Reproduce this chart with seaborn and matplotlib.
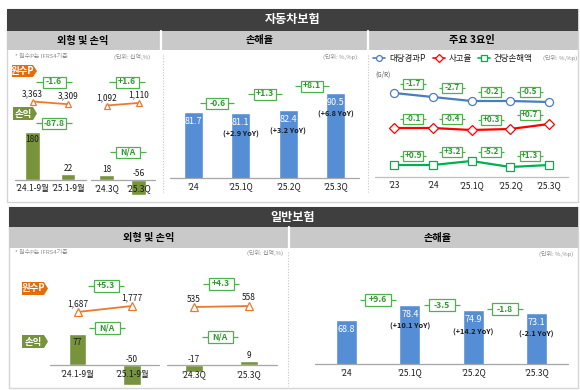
import matplotlib
matplotlib.use("Agg")
import matplotlib.pyplot as plt
from matplotlib.patches import Rectangle, Polygon
import numpy as np
import pandas as pd
import seaborn as sns

# ---------------- data ----------------
# 자동차보험 - 외형 및 손익
auto_cum_periods = ["'24.1-9월", "'25.1-9월"]
auto_cum_premium = [3363, 3309]
auto_cum_profit = [180, 22]
auto_q_periods = ["'24.3Q", "'25.3Q"]
auto_q_premium = [1092, 1110]
auto_q_profit = [18, -56]
auto_premium_delta = ["-1.6", "+1.6"]
auto_profit_delta = ["-87.8", "N/A"]

# 자동차보험 - 손해율
auto_lr_periods = ["'24", "'25.1Q", "'25.2Q", "'25.3Q"]
auto_lr = [81.7, 81.1, 82.4, 90.5]
auto_lr_yoy = ["", "(+2.9 YoY)", "(+3.2 YoY)", "(+6.8 YoY)"]
auto_lr_delta = ["-0.6", "+1.3", "+8.1"]

# 자동차보험 - 주요 3요인 (relative G/R levels)
factor_periods = ["'23", "'24", "'25.1Q", "'25.2Q", "'25.3Q"]
factor_premium = [84, 80, 76, 76, 75]      # 대당경과P
factor_freq = [49, 49, 47, 48, 53]         # 사고율
factor_severity = [12, 12, 16, 10, 12]     # 건당손해액
premium_delta = ["-1.7", "-2.7", "-0.2", "-0.5"]
freq_delta = ["-0.1", "-0.4", "+0.3", "+0.7"]
severity_delta = ["+0.9", "+3.2", "-5.2", "+1.3"]

# 일반보험 - 외형 및 손익
gen_cum_periods = ["'24.1-9월", "'25.1-9월"]
gen_cum_premium = [1687, 1777]
gen_cum_profit = [77, -50]
gen_q_periods = ["'24.3Q", "'25.3Q"]
gen_q_premium = [535, 558]
gen_q_profit = [-17, 9]
gen_premium_delta = ["+5.3", "+4.3"]
gen_profit_delta = ["N/A", "N/A"]

# 일반보험 - 손해율
gen_lr_periods = ["'24", "'25.1Q", "'25.2Q", "'25.3Q"]
gen_lr = [68.8, 78.4, 74.9, 73.1]
gen_lr_yoy = ["", "(+10.1 YoY)", "(+14.2 YoY)", "(-2.1 YoY)"]
gen_lr_delta = ["+9.6", "-3.5", "-1.8"]

# ---------------- style ----------------
sns.set_style("white")
plt.rcParams['font.family'] = ['Noto Sans CJK KR', 'DejaVu Sans']
plt.rcParams['axes.unicode_minus'] = False

DARK = '#3f3f3f'
GRAYH = '#c9c9c9'
OLIVE = '#77933c'
ORANGE_TAG = '#e46c0a'
ORANGE = '#eb7a2f'
BLUE = '#558ed5'
GE = '#4cb34c'
GT = '#2f972f'
BASE = '#a6a6a6'
TXT = '#1a1a1a'
NOTE = '#8c8c8c'
LBLUE = '#4a7ebb'
LRED = '#ff0000'
LGREEN = '#00b050'

W, H = 580, 390
fig = plt.figure(figsize=(W / 100, H / 100), dpi=100)
fig.patch.set_facecolor('white')


def overlay(z):
    ax = fig.add_axes([0, 0, 1, 1])
    ax.set_xlim(0, W)
    ax.set_ylim(H, 0)
    ax.set_axis_off()
    ax.set_zorder(z)
    ax.patch.set_alpha(0)
    return ax


bg = overlay(-1)
fg = overlay(5)


def data_axes(x0, x1, y0, y1):
    ax = fig.add_axes([x0 / W, 1 - y1 / H, (x1 - x0) / W, (y1 - y0) / H])
    ax.patch.set_alpha(0)
    return ax


def ylims(y_top, y_bot, y_base, base_val, ppu):
    return (base_val - (y_bot - y_base) / ppu, base_val + (y_base - y_top) / ppu)


def to_px(ax, x, y):
    X, Y = ax.transData.transform((x, y))
    return X, H - Y


def section(x0, y0, x1, y1, title, hy0, hy1, sy1, subs, seps):
    bg.add_patch(Rectangle((x0, y0), x1 - x0, y1 - y0, fc='white', ec='#d5d5d5', lw=1))
    bg.add_patch(Rectangle((x0, hy0), x1 - x0, hy1 - hy0, fc=DARK, ec='none'))
    bg.text(293, (hy0 + hy1) / 2, title, color='white', ha='center', va='center',
            fontsize=8.7, fontweight='bold')
    bg.add_patch(Rectangle((x0, hy1), x1 - x0, sy1 - hy1, fc=GRAYH, ec='none'))
    for cx, s in subs:
        bg.text(cx, (hy1 + sy1) / 2, s, color='black', ha='center', va='center',
                fontsize=7.3, fontweight='bold')
    for sx in seps:
        bg.plot([sx, sx], [hy1, sy1], color='white', lw=1.6)


def dotted(x, y0, y1):
    bg.plot([x, x], [y0, y1], color='#c4c4c4', lw=0.8, linestyle=(0, (1, 1.5)))


def tag(x0, y0, x1, y1, color, s):
    tip = 4
    fg.add_patch(Polygon([(x0, y0), (x1 - tip, y0), (x1, (y0 + y1) / 2), (x1 - tip, y1), (x0, y1)],
                         closed=True, fc=color, ec='none'))
    fg.text((x0 + x1 - tip) / 2, (y0 + y1) / 2, s, color='white', ha='center', va='center',
            fontsize=6.8, fontweight='bold')


def delta_box(cx, cy, s, w, h, half, fs=6.2):
    fg.plot([cx - half, cx + half], [cy, cy], color=GE, lw=0.9, zorder=2, solid_capstyle='butt')
    fg.add_patch(Rectangle((cx - w / 2 + 1, cy - h / 2 + 1), w, h, fc='#d0d0d0', ec='none', zorder=3))
    fg.add_patch(Rectangle((cx - w / 2, cy - h / 2), w, h, fc='white', ec=GE, lw=0.9, zorder=4))
    fg.text(cx, cy, s, ha='center', va='center', fontsize=fs, fontweight='bold', color=GT, zorder=5)


def note(x, y, s, ha='left'):
    fg.text(x, y, s, ha=ha, va='center', fontsize=4.3, color=NOTE)


def bar_panel(x0, x1, y0, y1, cats, vals, color, lims, width, base):
    ax = data_axes(x0, x1, y0, y1)
    df = pd.DataFrame({'cat': cats, 'val': vals})
    sns.barplot(data=df, x='cat', y='val', color=color, saturation=1, width=width,
                errorbar=None, ax=ax)
    ax.set_xlim(-0.5, len(cats) - 0.5)
    ax.set_ylim(*lims)
    ax.axhline(base, color=BASE, lw=0.9, zorder=3, clip_on=False)
    ax.set_axis_off()
    return ax


def line_panel(x0, x1, y0, y1, vals, color, lims, marker, ms):
    ax = data_axes(x0, x1, y0, y1)
    df = pd.DataFrame({'i': np.arange(len(vals)), 'v': vals})
    sns.lineplot(data=df, x='i', y='v', color=color, lw=1.3, marker=marker, markersize=ms,
                 markerfacecolor='white', markeredgecolor=color, markeredgewidth=0.9,
                 ax=ax, clip_on=False, legend=False)
    ax.set_xlim(-0.5, len(vals) - 0.5)
    ax.set_ylim(*lims)
    ax.set_axis_off()
    return ax


def xlabels(ax, cats, base, y):
    for i, c in enumerate(cats):
        px, _ = to_px(ax, i, base)
        fg.text(px, y, c, ha='center', va='center', fontsize=6, color=TXT, zorder=6)


def profit_labels(ax, vals):
    for i, v in enumerate(vals):
        cx, ty = to_px(ax, i, v)
        _, by = to_px(ax, i, 0)
        if v > 0 and (by - ty) > 25:
            y = ty + 8
        else:
            y = min(ty, by) - 6
        fg.text(cx, y, f"{v}", ha='center', va='center', fontsize=6, color=TXT)


def premium_labels(ax, vals, off=8):
    for i, v in enumerate(vals):
        cx, py = to_px(ax, i, v)
        fg.text(cx, py - off, f"{v:,}", ha='center', va='center', fontsize=6, color=TXT)


def lr_labels(ax, vals, yoy):
    for i, (v, s) in enumerate(zip(vals, yoy)):
        cx, ty = to_px(ax, i, v)
        fg.text(cx, ty + 9.5, f"{v:.1f}", ha='center', va='center', fontsize=6.5, color='white')
        if s:
            fg.text(cx, ty + 21.5, s, ha='center', va='center', fontsize=5.3, color=TXT,
                    fontweight='bold')


# ---------------- frames & headers ----------------
section(7, 9, 578, 202, '자동차보험', 9, 31, 50,
        [(83, '외형 및 손익'), (260, '손해율'), (472, '주요 3요인')], [161, 368])
section(9, 207, 578, 388, '일반보험', 207, 227, 248,
        [(149, '외형 및 손익'), (438, '손해율')], [289])
dotted(163, 55, 192)
dotted(368, 55, 192)
dotted(288, 252, 386)

# ================= 자동차보험: 외형 및 손익 =================
note(15, 56, '* 원수P는 IFRS4기준')
note(150, 57, '(단위: 십억,%)', ha='right')
tag(12, 65, 37, 77, ORANGE_TAG, '원수P')
tag(13, 107, 37, 120, OLIVE, '손익')

ax = bar_panel(14.75, 85.75, 120, 200, auto_cum_periods, auto_cum_profit, OLIVE,
               ylims(120, 200, 180, 0, 0.267), 0.41, 0)
profit_labels(ax, auto_cum_profit)
xlabels(ax, auto_cum_periods, 0, 189)
ax = bar_panel(90.5, 154.5, 120, 200, auto_q_periods, auto_q_profit, OLIVE,
               ylims(120, 200, 180, 0, 0.267), 0.47, 0)
profit_labels(ax, auto_q_profit)
xlabels(ax, auto_q_periods, 0, 189)

ax = line_panel(14.75, 85.75, 88, 114, auto_cum_premium, ORANGE,
                ylims(88, 114, 101.5, 3363, 0.05), '^', 5)
premium_labels(ax, auto_cum_premium)
ax = line_panel(90.5, 154.5, 88, 114, auto_q_premium, ORANGE,
                ylims(88, 114, 105.5, 1092, 0.14), '^', 5)
premium_labels(ax, auto_q_premium)

for (cx, cy), s in zip([(54, 82), (127, 82)], auto_premium_delta):
    delta_box(cx, cy, s, 23, 11, 18)
for (cx, cy), s in zip([(54, 123), (127.5, 152)], auto_profit_delta):
    delta_box(cx, cy, s, 24, 11, 18)

# ================= 자동차보험: 손해율 =================
note(357, 57, '(단위: %,%p)', ha='right')
ax = bar_panel(169.85, 359.2, 62, 178, auto_lr_periods, auto_lr, BLUE,
               ylims(62, 178, 178, 51, 2.16), 0.40, 51)
lr_labels(ax, auto_lr, auto_lr_yoy)
xlabels(ax, auto_lr_periods, 51, 187)
for i, (s, cy) in enumerate(zip(auto_lr_delta, [103, 94, 86])):
    cx = (to_px(ax, i, 51)[0] + to_px(ax, i + 1, 51)[0]) / 2
    delta_box(cx, cy, s, 22, 11, 17)

# ================= 자동차보험: 주요 3요인 =================
fax = data_axes(374.6, 568.4, 70, 177)
for vals, col, mk, ms in [(factor_premium, LBLUE, 'o', 5.8),
                          (factor_freq, LRED, 'D', 4.8),
                          (factor_severity, LGREEN, 's', 5.4)]:
    df = pd.DataFrame({'i': np.arange(len(vals)), 'v': vals})
    sns.lineplot(data=df, x='i', y='v', color=col, lw=1.6, marker=mk, markersize=ms,
                 markerfacecolor='white', markeredgecolor=col, markeredgewidth=0.9,
                 ax=fax, clip_on=False, legend=False)
fax.set_xlim(-0.5, len(factor_periods) - 0.5)
fax.set_ylim(0, 107)
fax.axhline(0, color='#bfbfbf', lw=0.9, clip_on=False)
fax.set_axis_off()
xlabels(fax, factor_periods, 0, 186)
for vals, deltas in [(factor_premium, premium_delta), (factor_freq, freq_delta),
                     (factor_severity, severity_delta)]:
    for i, s in enumerate(deltas):
        x1p, y1p = to_px(fax, i, vals[i])
        x2p, y2p = to_px(fax, i + 1, vals[i + 1])
        delta_box((x1p + x2p) / 2, min(y1p, y2p) - 9, s, 20, 10, 13, fs=5.9)

fg.text(375, 75, '(G/R)', ha='left', va='center', fontsize=4.5, color='#555555')
# legend
for x0, col, mk, ms, lab in [(373, LBLUE, 'o', 4.2, '대당경과P'),
                             (433, LRED, 'D', 3.6, '사고율'),
                             (478, LGREEN, 's', 3.8, '건당손해액')]:
    fg.plot([x0, x0 + 12], [58, 58], color=col, lw=1.2)
    fg.plot([x0 + 6], [58], marker=mk, ms=ms, mfc='white', mec=col, mew=0.9, color=col)
    fg.text(x0 + 16, 58, lab, ha='left', va='center', fontsize=6.1, color=TXT)
note(577, 58, '(단위: %,%p)', ha='right')

# ================= 일반보험: 외형 및 손익 =================
note(15, 253, '* 원수P는 IFRS4기준')
note(283, 253, '(단위: 십억,%)', ha='right')
tag(22, 282, 48, 295, ORANGE_TAG, '원수P')
tag(22, 335, 48, 348, OLIVE, '손익')

ax = bar_panel(50.25, 159.25, 325, 390, gen_cum_periods, gen_cum_profit, OLIVE,
               ylims(325, 390, 365, 0, 0.4), 0.33, 0)
profit_labels(ax, gen_cum_profit)
xlabels(ax, gen_cum_periods, 0, 375)
ax = bar_panel(166.5, 276.5, 325, 390, gen_q_periods, gen_q_profit, OLIVE,
               ylims(325, 390, 365, 0, 0.4), 0.33, 0)
profit_labels(ax, gen_q_profit)
xlabels(ax, gen_q_periods, 0, 375)

ax = line_panel(50.25, 159.25, 290, 320, gen_cum_premium, ORANGE,
                ylims(290, 320, 312, 1687, 0.0667), '^', 5.5)
premium_labels(ax, gen_cum_premium, off=8)
ax = line_panel(166.5, 276.5, 290, 320, gen_q_premium, ORANGE,
                ylims(290, 320, 307, 535, 0.0435), '^', 5.5)
premium_labels(ax, gen_q_premium, off=8)

for (cx, cy), s in zip([(106, 286), (221, 284)], gen_premium_delta):
    delta_box(cx, cy, s, 25, 12, 18)
for (cx, cy), s in zip([(107, 328), (220, 337)], gen_profit_delta):
    delta_box(cx, cy, s, 25, 12, 18)

# ================= 일반보험: 손해율 =================
note(573, 254, '(단위: %,%p)', ha='right')
ax = bar_panel(314.8, 568.2, 265, 364, gen_lr_periods, gen_lr, BLUE,
               ylims(265, 364, 364, 40.6, 1.56), 0.33, 40.6)
lr_labels(ax, gen_lr, gen_lr_yoy)
xlabels(ax, gen_lr_periods, 40.6, 373)
for i, (s, cy) in enumerate(zip(gen_lr_delta, [300, 305, 309])):
    cx = (to_px(ax, i, 40.6)[0] + to_px(ax, i + 1, 40.6)[0]) / 2
    delta_box(cx, cy, s, 26, 12, 18)

fig.savefig('out.png', dpi=100)
